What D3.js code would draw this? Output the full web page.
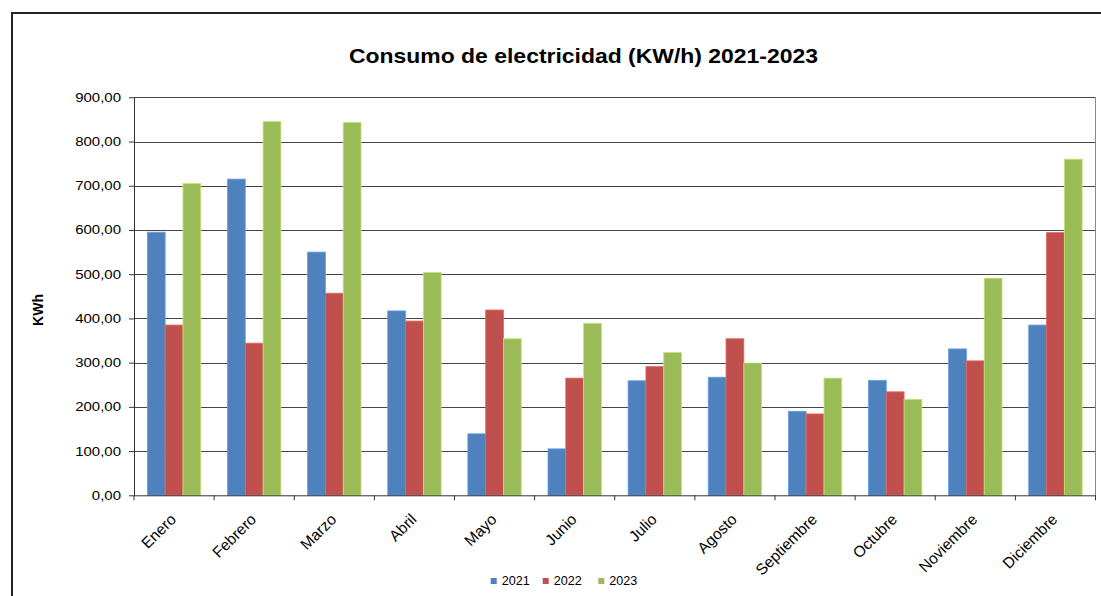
<!DOCTYPE html>
<html><head><meta charset="utf-8">
<script src="https://cdn.jsdelivr.net/npm/d3@7"></script>
<style>body{margin:0;background:#fff}svg{display:block;font-family:"Liberation Sans",Arial,sans-serif}</style>
</head><body><svg id="c" width="1101" height="596"></svg>
<script>
const months = ["Enero","Febrero","Marzo","Abril","Mayo","Junio","Julio","Agosto","Septiembre","Octubre","Noviembre","Diciembre"];
const series = ["2021","2022","2023"];
const v2021 = [595,715,550,417,139,105,259,267,190,260,331,385];
const v2022 = [385,344,457,394,419,265,291,354,184,234,304,594];
const v2023 = [705,845,843,504,354,389,323,299,265,217,491,760];
const yTicks = [0,100,200,300,400,500,600,700,800,900];
const colors = ["#4F81BD","#C0504D","#9BBB59"];
const values = [v2021,v2022,v2023];

const svg = d3.select("#c");
const L=134, R=1095.5, T=97.3, B=495.3;
const x = d3.scaleBand().domain(months).range([L,R]).paddingInner(0).paddingOuter(0);
const y = d3.scaleLinear().domain([0,900]).range([B,T]);
const gap = 1.5;
const bw = x.bandwidth()/(3+gap);

// outer border
svg.append("path").attr("d",`M12,596 L12,13 L1101,13`).attr("fill","none").attr("stroke","#222").attr("stroke-width",2);

// gridlines
svg.append("g").selectAll("line").data(yTicks.filter(d=>d>0)).join("line")
  .attr("x1",L).attr("x2",R).attr("y1",d=>Math.round(y(d))+0.5).attr("y2",d=>Math.round(y(d))+0.5)
  .attr("stroke","#454545").attr("stroke-width",1);
svg.append("line").attr("x1",R).attr("x2",R).attr("y1",T).attr("y2",B).attr("stroke","#888").attr("stroke-width",1);

// bars
series.forEach((s,si)=>{
  svg.append("g").selectAll("rect").data(months).join("rect")
    .attr("x",(m)=>x(m)+bw*gap/2+si*bw)
    .attr("width",bw)
    .attr("y",(m,i)=>y(values[si][i]))
    .attr("height",(m,i)=>B-y(values[si][i]))
    .attr("fill",colors[si])
    .attr("stroke",d3.color(colors[si]).brighter(0.6))
    .attr("stroke-width",0.8);
});

// y axis
const fmt = d=>d3.format(".2f")(d).replace(".",",");
const ya = svg.append("g").attr("transform",`translate(${L},0)`)
  .call(d3.axisLeft(y).tickValues(yTicks).tickFormat(fmt).tickSize(5).tickSizeOuter(0));
ya.select(".domain").attr("stroke","#333");
ya.selectAll(".tick line").attr("stroke","#333");
ya.selectAll("text").attr("font-size",12.5).attr("fill","#000")
  .attr("font-family","Liberation Sans, Arial, sans-serif")
  .attr("x",0).attr("transform","translate(-13,0) scale(1.2,1)");

// x axis
const xa = svg.append("g").attr("transform",`translate(0,${B})`)
  .call(d3.axisBottom(x).tickSize(0).tickSizeOuter(0));
xa.select(".domain").attr("stroke","#333");
xa.selectAll(".tick text").remove();
svg.append("g").selectAll("line").data(d3.range(13)).join("line")
  .attr("x1",i=>L+i*x.step()).attr("x2",i=>L+i*x.step())
  .attr("y1",B).attr("y2",B+5).attr("stroke","#333");
svg.append("g").selectAll("text").data(months).join("text")
  .attr("transform",m=>`translate(${x(m)+x.bandwidth()/2+3},${B+25}) rotate(-45)`)
  .attr("text-anchor","end").attr("font-size",15.5).attr("fill","#000").text(m=>m);

// title
svg.append("text").attr("x",583.5).attr("y",63.3).attr("text-anchor","middle")
  .attr("font-size",21).attr("font-weight","bold")
  .attr("textLength",469).attr("lengthAdjust","spacingAndGlyphs")
  .text("Consumo de electricidad (KW/h) 2021-2023");
// y label
svg.append("text").attr("transform","translate(43,310) rotate(-90)").attr("text-anchor","middle")
  .attr("font-size",14).attr("font-weight","bold").text("KWh");

// legend
const lg = svg.append("g").attr("transform","translate(490.7,585)");
const lx = [0,52,107.6];
series.forEach((s,i)=>{
  lg.append("rect").attr("x",lx[i]).attr("y",-7).attr("width",6).attr("height",6).attr("fill",colors[i]);
  lg.append("text").attr("x",lx[i]+11).attr("y",0).attr("font-size",12.6).text(s);
});
</script></body></html>
